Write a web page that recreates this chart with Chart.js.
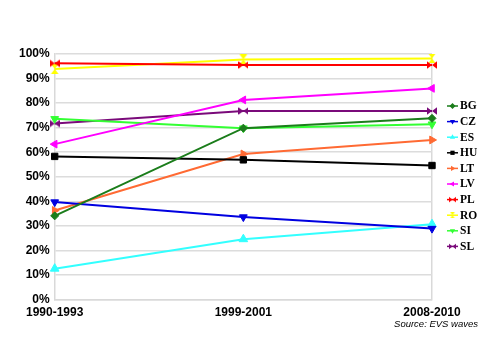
<!DOCTYPE html>
<html>
<head>
<meta charset="utf-8">
<script src="https://cdn.jsdelivr.net/npm/chart.js@4/dist/chart.umd.min.js"></script>
<style>
html, body { margin: 0; background: #fff; }
#wrap { width: 500px; height: 354px; position: relative; }
</style>
</head>
<body>
<div id="wrap"><canvas id="myChart"></canvas></div>
<script>
const waves = ['1990-1993', '1999-2001', '2008-2010'];
const countries = ['BG', 'CZ', 'ES', 'HU', 'LT', 'LV', 'PL', 'RO', 'SI', 'SL'];
const colors = ['#1b7d1b', '#0000e0', '#33ffff', '#000000', '#ff6a33', '#ff00ff', '#ff0000', '#ffff00', '#33ff33', '#7a0a7a'];
const bgVals = [34.1, 69.8, 73.8];
const czVals = [39.7, 33.6, 28.9];
const esVals = [12.6, 24.6, 30.7];
const huVals = [58.3, 56.9, 54.6];
const ltVals = [36.3, 59.3, 65.0];
const lvVals = [63.3, 81.3, 86.0];
const plVals = [96.2, 95.5, 95.5];
const roVals = [93.9, 97.8, 98.2];
const siVals = [73.6, 69.8, 71.4];
const slVals = [71.7, 76.8, 76.8];
const yTicks = [0, 10, 20, 30, 40, 50, 60, 70, 80, 90, 100];

// bowtie shaped markers (two triangles meeting at the centre)
function bowtie(color, vertical, s) {
    const cv = document.createElement('canvas');
    cv.width = s; cv.height = s;
    const g = cv.getContext('2d');
    const h = s / 2, e = s * 0.12;
    g.fillStyle = color;
    g.beginPath();
    if (vertical) {
        g.moveTo(e, 0); g.lineTo(s - e, 0); g.lineTo(h, h); g.closePath();
        g.moveTo(e, s); g.lineTo(s - e, s); g.lineTo(h, h); g.closePath();
    } else {
        g.moveTo(0, e); g.lineTo(0, s - e); g.lineTo(h, h); g.closePath();
        g.moveTo(s, e); g.lineTo(s, s - e); g.lineTo(h, h); g.closePath();
    }
    g.fill();
    return cv;
}

const markers = [
    { style: 'rectRot', rot: 0, r: 4 },
    { style: 'triangle', rot: 180, r: 4.5 },
    { style: 'triangle', rot: 0, r: 5 },
    { style: 'rect', rot: 0, r: 4.5 },
    { style: 'triangle', rot: 90, r: 4.5 },
    { style: 'triangle', rot: -90, r: 4.5 },
    { style: bowtie(colors[6], false, 10), small: bowtie(colors[6], false, 7), rot: 0, r: 5 },
    { style: bowtie(colors[7], true, 10), small: bowtie(colors[7], true, 6), rot: 0, r: 5 },
    { style: 'triangle', rot: 180, r: 4.5 },
    { style: bowtie(colors[9], false, 10), small: bowtie(colors[9], false, 7), rot: 0, r: 5 }
];
const series = [bgVals, czVals, esVals, huVals, ltVals, lvVals, plVals, roVals, siVals, slVals];

const lineLegend = {
    id: 'lineLegend',
    afterDraw(chart) {
        const c = chart.ctx;
        chart.data.datasets.forEach((ds, i) => {
            const y = 106 + i * 15.6;
            const m = markers[i];
            c.save();
            c.strokeStyle = ds.borderColor;
            c.fillStyle = ds.borderColor;
            c.lineWidth = 1.5;
            c.beginPath(); c.moveTo(447, y); c.lineTo(458, y); c.stroke();
            Chart.helpers.drawPoint(c, { pointStyle: m.small || m.style, radius: 3, rotation: m.rot, borderWidth: 0 }, 452.5, y);
            c.fillStyle = '#000';
            c.font = 'bold 11.5px "Liberation Serif"';
            c.textBaseline = 'middle';
            c.fillText(ds.label, 460, y + 0.5);
            c.restore();
        });
        c.save();
        c.fillStyle = '#000';
        c.font = 'italic 9.5px "Liberation Sans"';
        c.textAlign = 'right';
        c.textBaseline = 'middle';
        c.fillText('Source: EVS waves', 478, 324);
        c.restore();
    }
};

const ctx = document.getElementById('myChart');
new Chart(ctx, {
    type: 'line',
    data: {
        labels: waves,
        datasets: countries.map((name, i) => ({
            label: name,
            data: series[i],
            borderColor: colors[i],
            backgroundColor: colors[i],
            borderWidth: 2,
            pointStyle: markers[i].style,
            pointRotation: markers[i].rot,
            pointRadius: markers[i].r,
            pointHoverRadius: markers[i].r,
            pointBorderWidth: 1,
            tension: 0
        }))
    },
    options: {
        responsive: true,
        maintainAspectRatio: false,
        animation: false,
        events: [],
        layout: { padding: { top: 54, right: 68, bottom: 28, left: 14 } },
        plugins: { legend: { display: false }, tooltip: { enabled: false } },
        scales: {
            x: {
                offset: false,
                grid: {
                    color: c => c.index === 2 ? '#d9d9d9' : 'rgba(0,0,0,0)',
                    lineWidth: 1.5,
                    drawTicks: false
                },
                border: { color: '#d9d9d9', width: 1.5 },
                ticks: { color: '#000', font: { family: 'Liberation Sans', weight: 'bold', size: 12 }, padding: 6, maxRotation: 0 }
            },
            y: {
                min: 0,
                max: 100,
                afterBuildTicks: axis => { axis.ticks = yTicks.map(v => ({ value: v })); },
                grid: { color: '#dcdcdc', lineWidth: 1.5, drawTicks: false },
                border: { color: '#d9d9d9', width: 1.5 },
                ticks: { color: '#000', font: { family: 'Liberation Sans', weight: 'bold', size: 12 }, padding: 5, callback: v => v + '%' }
            }
        }
    },
    plugins: [lineLegend]
});
</script>
</body>
</html>
